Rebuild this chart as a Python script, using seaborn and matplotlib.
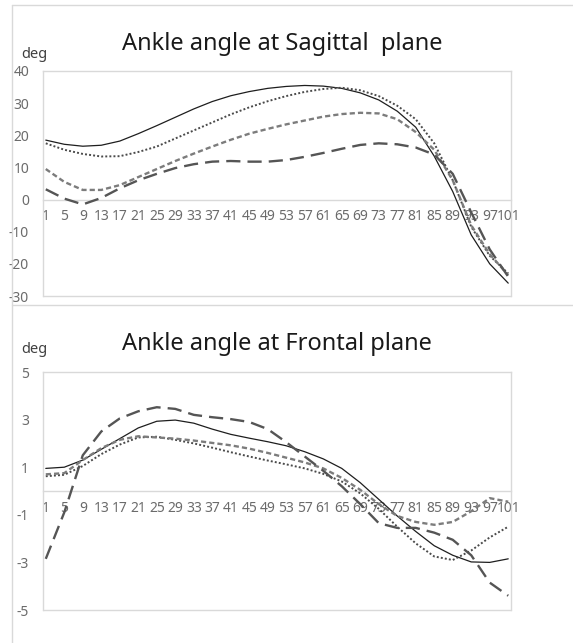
import numpy as np
import pandas as pd
import matplotlib
matplotlib.use("Agg")
import matplotlib.pyplot as plt
from matplotlib.lines import Line2D
import seaborn as sns

# ---------------- data ----------------
frames = [1, 5, 9, 13, 17, 21, 25, 29, 33, 37, 41, 45, 49, 53, 57, 61, 65, 69, 73, 77, 81, 85, 89, 93, 97, 101]
tick_labels = [str(v) for v in range(1, 102, 4)]

# Sagittal plane
sag_solid = [18.5, 17.2, 16.6, 16.9, 18.2, 20.5, 23.0, 25.6, 28.2, 30.5, 32.3, 33.6, 34.6, 35.2, 35.5, 35.3, 34.6, 33.2, 31.0, 27.5, 22.5, 13.5, 2.5, -11.0, -20.0, -26.0]
sag_dotted = [17.5, 15.5, 14.2, 13.4, 13.5, 14.8, 16.5, 19.0, 21.5, 24.0, 26.5, 28.7, 30.6, 32.2, 33.5, 34.4, 34.8, 34.0, 32.2, 29.2, 25.0, 17.5, 6.0, -8.5, -17.5, -23.0]
sag_short = [9.5, 5.5, 3.0, 3.0, 4.5, 7.0, 9.5, 12.0, 14.3, 16.5, 18.6, 20.5, 22.0, 23.4, 24.6, 25.8, 26.6, 27.0, 26.8, 25.0, 21.0, 15.5, 6.0, -8.0, -17.0, -23.5]
sag_long = [3.2, 0.3, -1.5, 0.5, 3.5, 6.0, 8.0, 9.8, 11.0, 11.8, 12.0, 11.8, 11.8, 12.3, 13.3, 14.5, 15.8, 17.0, 17.5, 17.2, 16.2, 14.0, 8.0, -4.0, -15.5, -24.0]

# Frontal plane
fro_solid = [0.95, 1.0, 1.3, 1.75, 2.2, 2.65, 2.93, 2.98, 2.85, 2.6, 2.38, 2.22, 2.07, 1.9, 1.65, 1.35, 0.95, 0.35, -0.35, -1.05, -1.7, -2.3, -2.7, -2.98, -3.0, -2.85]
fro_dotted = [0.62, 0.68, 1.05, 1.55, 1.95, 2.25, 2.28, 2.15, 2.0, 1.82, 1.63, 1.45, 1.28, 1.12, 0.95, 0.72, 0.4, -0.1, -0.75, -1.5, -2.2, -2.75, -2.9, -2.5, -1.95, -1.5]
fro_short = [0.7, 0.75, 1.3, 1.8, 2.15, 2.3, 2.25, 2.2, 2.12, 2.02, 1.92, 1.78, 1.6, 1.4, 1.2, 0.95, 0.55, 0.05, -0.55, -1.05, -1.3, -1.42, -1.3, -0.85, -0.3, -0.45]
fro_long = [-2.85, -0.9, 1.5, 2.5, 3.05, 3.35, 3.52, 3.45, 3.2, 3.1, 3.02, 2.9, 2.6, 2.05, 1.45, 0.85, 0.2, -0.55, -1.35, -1.55, -1.55, -1.75, -2.05, -2.7, -3.85, -4.4]

titles = ["Ankle angle at Sagittal  plane", "Ankle angle at Frontal plane"]
unit_label = "deg"
sag_yticks = [-30, -20, -10, 0, 10, 20, 30, 40]
fro_yticks = [-5, -3, -1, 1, 3, 5]

# ---------------- style ----------------
sns.set_theme(style="white")
plt.rcParams["font.family"] = ["Noto Sans", "DejaVu Sans"]

W, H = 573, 643
fig = plt.figure(figsize=(W / 100, H / 100), dpi=100)
fig.patch.set_facecolor("white")

BORDER = "#d9d9d9"
TICKC = "#6b6b6b"

styles = [
    dict(color="#1e1e1e", lw=0.9, ls="-"),
    dict(color="#4a4a4a", lw=1.4, ls=(0, (1, 1.1))),
    dict(color="#7c7c7c", lw=1.7, ls=(0, (2.2, 1.3))),
    dict(color="#555555", lw=1.7, ls=(0, (6, 3))),
]


def make_axes(top_px, bottom_px):
    return fig.add_axes([43 / W, 1 - bottom_px / H, 468 / W, (bottom_px - top_px) / H])


ax1 = make_axes(71, 296)
ax2 = make_axes(372, 610)

panels = [
    (ax1, [sag_solid, sag_dotted, sag_short, sag_long], sag_yticks),
    (ax2, [fro_solid, fro_dotted, fro_short, fro_long], fro_yticks),
]

for ax, series, yt in panels:
    ax.set_facecolor("white")
    for vals, st in zip(series, styles):
        df = pd.DataFrame({"frame": frames, "deg": vals})
        sns.lineplot(data=df, x="frame", y="deg", ax=ax, color=st["color"],
                     linewidth=st["lw"], linestyle=st["ls"], errorbar=None,
                     dash_capstyle="butt", solid_capstyle="round", zorder=3)
    ax.set_xlim(0.4, 101.6)
    ax.set_ylim(yt[0], yt[-1])
    ax.set_yticks(yt)
    ax.set_yticklabels([str(v) for v in yt])
    ax.set_xticks(frames)
    ax.set_xticklabels(tick_labels)
    ax.set_xlabel("")
    ax.set_ylabel("")
    for s in ["left", "right", "top"]:
        ax.spines[s].set_visible(True)
        ax.spines[s].set_color(BORDER)
        ax.spines[s].set_linewidth(1.0)
    ax.spines["bottom"].set_position(("data", 0))
    ax.spines["bottom"].set_color(BORDER)
    ax.spines["bottom"].set_linewidth(1.0)
    ax.spines["bottom"].set_zorder(1)
    ax.plot([0, 1], [0, 0], transform=ax.transAxes, color=BORDER, lw=1.0,
            clip_on=False, zorder=1)
    ax.tick_params(axis="both", length=0, colors=TICKC, labelsize=10)
    ax.tick_params(axis="x", pad=7)
    ax.tick_params(axis="y", pad=10)
    for lab in ax.get_xticklabels() + ax.get_yticklabels():
        lab.set_family(["Liberation Sans Narrow", "Noto Sans", "DejaVu Sans"])
    ax.grid(False)

# chart-area borders
for xs, ys in [([12, 12], [5, H]), ([12, W], [5, 5]), ([12, W], [305, 305])]:
    fig.add_artist(Line2D([x / W for x in xs], [1 - y / H for y in ys],
                          transform=fig.transFigure, color=BORDER, lw=1.0))

# titles and unit labels
fig.text(122 / W, 1 - 50 / H, titles[0], ha="left", va="baseline",
         fontsize=17, color="#1a1a1a")
fig.text(122 / W, 1 - 350 / H, titles[1], ha="left", va="baseline",
         fontsize=17, color="#1a1a1a")
fig.text(21 / W, 1 - 58 / H, unit_label, ha="left", va="baseline",
         fontsize=10.5, color="#404040")
fig.text(21 / W, 1 - 353 / H, unit_label, ha="left", va="baseline",
         fontsize=10.5, color="#404040")

fig.savefig("out.png", dpi=100, facecolor="white")
